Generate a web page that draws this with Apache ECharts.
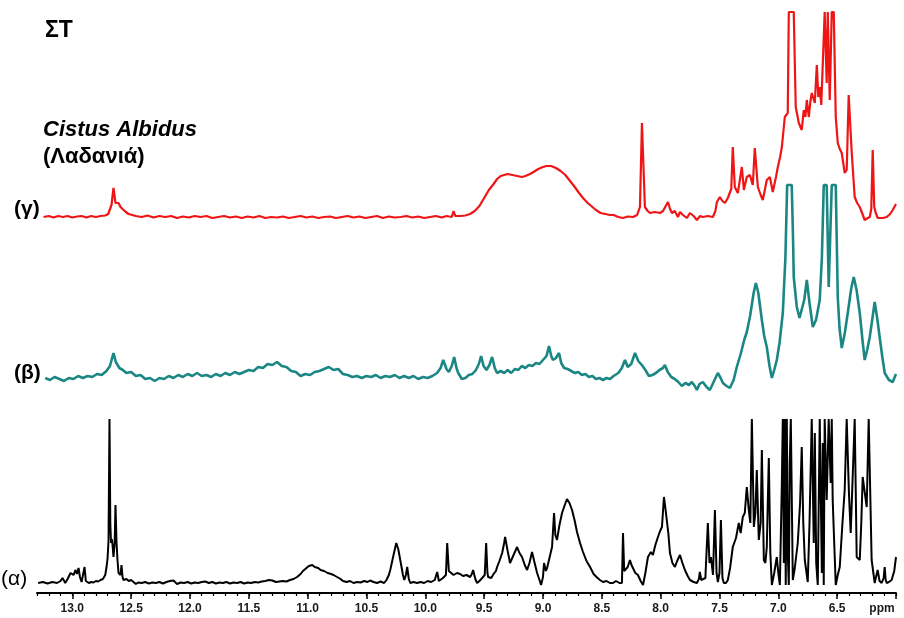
<!DOCTYPE html>
<html><head><meta charset="utf-8">
<script src="https://cdn.jsdelivr.net/npm/echarts@6/dist/echarts.min.js"></script>
<style>html,body{margin:0;padding:0;background:#fff}#c{width:904px;height:618px}</style>
</head><body><div id="c"></div>
<script>
// chemical shift (ppm) / relative intensity (tall tops are clipped in the figure)
const gammaTrace = [[13.244,0],[13.20,1],[13.16,-0.5],[13.12,1],[13.08,0],[13.04,1],[13.00,-0.5],[12.96,0.5],[12.92,1],[12.88,-0.5],[12.84,1],[12.80,0],[12.76,1],[12.72,1.5],[12.695,3],[12.667,12],[12.650,29],[12.633,14],[12.62,12],[12.607,14],[12.59,10],[12.573,8],[12.545,5],[12.522,3],[12.49,2],[12.46,1],[12.41,0],[12.36,1.5],[12.31,-0.5],[12.26,1],[12.21,0],[12.16,1],[12.11,-1],[12.06,0.5],[12.01,-0.5],[11.96,1],[11.91,0],[11.86,1],[11.81,-1],[11.76,0],[11.71,1],[11.66,-0.5],[11.61,0.5],[11.56,-1],[11.51,0.5],[11.46,-0.5],[11.41,1],[11.36,-1],[11.31,0],[11.26,-0.5],[11.21,0.5],[11.16,-1],[11.11,0],[11.06,1],[11.01,-0.5],[10.96,0.5],[10.91,-1],[10.86,0],[10.81,0.5],[10.76,-1],[10.71,0],[10.66,1],[10.61,-0.5],[10.56,0.5],[10.51,-1],[10.46,0],[10.41,1],[10.36,-1],[10.31,0.5],[10.26,-0.5],[10.21,0],[10.16,1],[10.11,-0.5],[10.06,0.5],[10.01,-1],[9.96,0],[9.91,1],[9.86,-0.5],[9.82,1],[9.775,0],[9.76,6],[9.745,1],[9.70,1],[9.66,1.5],[9.62,3],[9.58,6],[9.54,11],[9.50,19],[9.46,27],[9.42,33],[9.39,38],[9.36,41],[9.33,42],[9.30,43],[9.26,42],[9.22,41],[9.18,40],[9.15,41],[9.11,43],[9.08,45],[9.04,48],[9.00,50],[8.97,51],[8.93,51],[8.89,49],[8.85,46],[8.81,42],[8.77,36],[8.73,30],[8.70,25],[8.66,19],[8.62,14],[8.58,10],[8.55,7],[8.51,4],[8.47,3],[8.43,2],[8.40,2],[8.36,0],[8.32,-1],[8.28,0.5],[8.235,0],[8.20,2],[8.176,10],[8.159,94],[8.134,10],[8.11,6],[8.091,4],[8.05,5],[8.006,4],[7.98,6],[7.964,7],[7.938,15],[7.92,8],[7.904,4],[7.88,6],[7.853,0],[7.836,5],[7.81,2],[7.777,-1],[7.751,4],[7.72,1],[7.692,-3],[7.665,1],[7.641,0],[7.60,1],[7.556,0],[7.535,6],[7.522,15],[7.497,20],[7.475,16],[7.454,14],[7.429,19],[7.40,28],[7.387,70],[7.370,30],[7.344,24],[7.310,50],[7.293,27],[7.268,40],[7.242,42],[7.217,32],[7.200,69],[7.174,30],[7.15,22],[7.132,17],[7.11,30],[7.098,37],[7.072,40],[7.047,25],[7.02,40],[7.004,50],[6.985,60],[6.970,70],[6.945,100],[6.920,104],[6.911,205],[6.869,205],[6.852,110],[6.826,94],[6.801,87],[6.784,107],[6.770,100],[6.758,117],[6.741,100],[6.728,115],[6.716,124],[6.690,114],[6.673,152],[6.660,120],[6.648,130],[6.635,112],[6.622,110],[6.606,205],[6.589,134],[6.580,205],[6.563,117],[6.546,205],[6.529,205],[6.512,100],[6.495,74],[6.478,68],[6.461,64],[6.436,44],[6.419,47],[6.402,122],[6.376,64],[6.351,20],[6.33,14],[6.308,10],[6.285,3],[6.266,-3],[6.24,-1],[6.223,0],[6.21,8],[6.198,67],[6.185,10],[6.172,4],[6.155,-1],[6.139,-3],[6.11,-1],[6.079,0],[6.05,3],[6.028,7],[6.0,13]];

const betaTrace = [[13.23,0],[13.19,-2],[13.15,1],[13.11,-1],[13.07,-3],[13.03,0],[12.99,-1],[12.95,2],[12.91,0],[12.87,2],[12.83,1],[12.79,4],[12.75,3],[12.71,7],[12.68,12],[12.65,25],[12.63,16],[12.60,10],[12.57,8],[12.54,5],[12.50,6],[12.46,2],[12.42,3],[12.38,-1],[12.34,0],[12.30,-3],[12.26,0],[12.22,-1],[12.18,2],[12.14,0],[12.10,3],[12.06,1],[12.02,4],[11.98,2],[11.94,5],[11.90,2],[11.86,3],[11.82,1],[11.78,4],[11.74,2],[11.70,5],[11.66,3],[11.62,6],[11.58,4],[11.54,6],[11.50,8],[11.46,7],[11.42,11],[11.38,10],[11.34,14],[11.30,13],[11.26,16],[11.22,12],[11.18,11],[11.14,7],[11.10,6],[11.06,2],[11.02,4],[10.98,3],[10.94,6],[10.90,7],[10.86,9],[10.82,11],[10.78,8],[10.74,9],[10.70,4],[10.66,3],[10.62,1],[10.58,2],[10.54,0],[10.50,2],[10.46,1],[10.42,3],[10.38,0],[10.34,2],[10.30,1],[10.26,3],[10.22,0],[10.18,2],[10.14,0],[10.10,2],[10.06,-1],[10.02,1],[9.98,0],[9.94,2],[9.90,5],[9.87,10],[9.848,18],[9.82,9],[9.80,6],[9.775,12],[9.755,21],[9.735,10],[9.72,5],[9.69,-1],[9.66,0],[9.63,3],[9.60,4],[9.57,8],[9.545,14],[9.526,22],[9.505,12],[9.48,8],[9.455,13],[9.432,21],[9.41,10],[9.39,5],[9.36,7],[9.33,5],[9.30,8],[9.27,5],[9.24,9],[9.21,8],[9.18,12],[9.15,10],[9.12,13],[9.09,12],[9.06,15],[9.03,14],[9.00,18],[8.97,22],[8.949,32],[8.93,22],[8.915,18],[8.89,20],[8.864,25],[8.845,15],[8.82,10],[8.79,9],[8.76,7],[8.73,5],[8.70,6],[8.67,3],[8.64,4],[8.61,1],[8.58,2],[8.55,-1],[8.52,0],[8.49,-2],[8.46,0],[8.43,-1],[8.40,2],[8.36,5],[8.33,10],[8.303,18],[8.28,11],[8.25,14],[8.218,25],[8.19,17],[8.16,13],[8.13,8],[8.10,2],[8.07,3],[8.04,5],[8.01,8],[7.98,10],[7.964,13],[7.94,6],[7.91,1],[7.88,-1],[7.85,-4],[7.82,-8],[7.79,-5],[7.76,-7],[7.735,-4],[7.71,-8],[7.692,-12],[7.67,-6],[7.641,-4],[7.61,-9],[7.582,-12],[7.55,-4],[7.514,5],[7.49,0],[7.471,-5],[7.44,-8],[7.412,-10],[7.38,-2],[7.353,11],[7.32,24],[7.29,38],[7.268,46],[7.24,62],[7.21,85],[7.191,95],[7.17,85],[7.14,58],[7.12,42],[7.098,31],[7.075,12],[7.055,0],[7.035,8],[7.013,18],[6.99,35],[6.962,65],[6.94,120],[6.925,193],[6.886,193],[6.875,140],[6.869,101],[6.843,71],[6.82,60],[6.809,58],[6.78,78],[6.758,98],[6.735,75],[6.707,51],[6.68,58],[6.648,78],[6.63,120],[6.614,193],[6.589,193],[6.572,91],[6.546,193],[6.512,193],[6.495,81],[6.48,50],[6.461,30],[6.435,45],[6.41,65],[6.38,90],[6.359,101],[6.335,88],[6.308,65],[6.285,38],[6.266,18],[6.245,28],[6.223,41],[6.20,60],[6.181,76],[6.16,60],[6.139,41],[6.115,20],[6.096,5],[6.06,-2],[6.028,-4],[6.0,4]];

const alphaTrace = [[13.29,0],[13.25,1],[13.21,-0.5],[13.17,1],[13.13,0],[13.10,2],[13.083,5],[13.06,0],[13.04,4],[13.015,10],[12.99,8],[12.972,13],[12.96,9],[12.947,15],[12.935,6],[12.921,1],[12.905,3],[12.896,16],[12.885,2],[12.86,0],[12.84,1],[12.82,0.5],[12.80,2],[12.78,1.5],[12.76,3],[12.74,4],[12.72,8],[12.709,16],[12.70,25],[12.692,43],[12.684,164],[12.677,60],[12.671,40],[12.664,44],[12.658,38],[12.650,26],[12.640,40],[12.633,78],[12.624,40],[12.616,23],[12.607,10],[12.59,8],[12.582,18],[12.573,6],[12.565,3],[12.54,4],[12.52,2],[12.50,3],[12.48,1],[12.46,-1],[12.44,0.5],[12.41,0],[12.38,1],[12.35,-0.5],[12.32,0.5],[12.29,0],[12.26,1],[12.23,-0.5],[12.20,1],[12.17,2],[12.14,2.5],[12.11,-1],[12.08,0.5],[12.05,0],[12.02,1],[11.99,-0.5],[11.96,0.5],[11.93,0],[11.90,1],[11.87,1.5],[11.84,0],[11.81,1],[11.78,-0.5],[11.75,0.5],[11.72,0],[11.69,1],[11.66,-0.5],[11.63,0.5],[11.60,0],[11.57,1],[11.54,-0.5],[11.51,0.5],[11.48,0],[11.45,1],[11.42,0.5],[11.39,1.5],[11.36,2],[11.33,3],[11.30,2.5],[11.27,1],[11.24,1.5],[11.21,2],[11.18,1.5],[11.15,3],[11.12,4],[11.09,6],[11.06,9],[11.04,12],[11.01,15],[10.99,17],[10.96,18],[10.94,16],[10.91,15],[10.89,13],[10.86,12],[10.83,10],[10.80,9],[10.78,8],[10.75,6],[10.72,4],[10.70,2],[10.67,1],[10.64,2],[10.61,0],[10.58,1],[10.55,0.5],[10.52,2],[10.49,1],[10.47,2.5],[10.44,1],[10.41,0],[10.38,1.5],[10.35,0],[10.33,3],[10.31,8],[10.298,13],[10.27,28],[10.247,40],[10.23,34],[10.213,23],[10.19,8],[10.179,3],[10.165,8],[10.154,16],[10.14,4],[10.128,0],[10.10,1],[10.07,0],[10.04,1],[10.01,0],[9.98,2],[9.95,1],[9.92,3],[9.899,11],[9.885,2],[9.874,0],[9.85,5],[9.825,8],[9.814,40],[9.80,12],[9.789,10],[9.76,8],[9.73,10],[9.704,9],[9.68,7],[9.65,8],[9.619,6],[9.605,9],[9.594,13],[9.575,4],[9.560,0],[9.54,2],[9.517,5],[9.495,8],[9.483,40],[9.472,10],[9.466,6],[9.44,5],[9.42,9],[9.40,12],[9.39,16],[9.37,22],[9.347,30],[9.33,40],[9.322,46],[9.30,32],[9.280,20],[9.25,28],[9.220,36],[9.20,30],[9.178,26],[9.155,18],[9.135,13],[9.115,20],[9.093,31],[9.075,22],[9.050,10],[9.03,3],[9.016,-2],[9.00,6],[8.991,20],[8.975,12],[8.965,15],[8.945,25],[8.923,36],[8.906,70],[8.895,48],[8.881,43],[8.86,58],[8.838,70],[8.815,78],[8.796,84],[8.775,80],[8.753,73],[8.73,62],[8.711,51],[8.685,40],[8.660,31],[8.63,22],[8.600,16],[8.57,9],[8.545,6],[8.516,3],[8.49,1],[8.46,2],[8.431,0],[8.405,0],[8.38,2],[8.35,0],[8.329,0],[8.320,50],[8.31,12],[8.303,10],[8.28,16],[8.261,23],[8.248,18],[8.235,16],[8.215,10],[8.193,8],[8.17,2],[8.150,-2],[8.13,10],[8.108,26],[8.083,31],[8.066,28],[8.045,38],[8.023,46],[8.005,52],[7.989,56],[7.972,86],[7.96,75],[7.947,73],[7.935,50],[7.921,30],[7.90,20],[7.879,16],[7.86,22],[7.836,28],[7.815,20],[7.794,13],[7.77,7],[7.751,3],[7.72,1],[7.692,0],[7.675,4],[7.667,11],[7.655,3],[7.641,1],[7.62,5],[7.599,60],[7.585,20],[7.573,26],[7.555,8],[7.539,73],[7.525,10],[7.514,1],[7.50,10],[7.488,63],[7.475,5],[7.463,0],[7.445,0],[7.429,3],[7.41,15],[7.387,36],[7.36,45],[7.336,60],[7.32,50],[7.302,66],[7.285,70],[7.268,96],[7.251,73],[7.238,60],[7.225,164],[7.208,56],[7.195,70],[7.183,113],[7.166,43],[7.15,60],[7.140,133],[7.123,23],[7.11,20],[7.098,36],[7.081,125],[7.068,30],[7.055,-2],[7.035,10],[7.013,26],[7.00,10],[6.987,-2],[6.970,100],[6.962,164],[6.953,20],[6.945,164],[6.937,-2],[6.928,164],[6.920,30],[6.911,-2],[6.903,120],[6.894,164],[6.877,3],[6.86,15],[6.835,40],[6.815,80],[6.801,136],[6.788,60],[6.775,23],[6.750,1],[6.735,60],[6.716,164],[6.699,40],[6.690,150],[6.678,20],[6.665,-2],[6.648,164],[6.630,10],[6.622,140],[6.614,-2],[6.606,164],[6.589,83],[6.572,164],[6.555,100],[6.546,164],[6.538,83],[6.525,40],[6.512,-2],[6.495,8],[6.478,16],[6.455,60],[6.436,93],[6.419,164],[6.40,90],[6.385,50],[6.37,100],[6.351,164],[6.334,26],[6.308,23],[6.295,60],[6.283,106],[6.265,90],[6.249,76],[6.232,164],[6.207,23],[6.181,0],[6.17,6],[6.156,13],[6.14,2],[6.122,0],[6.105,5],[6.096,16],[6.088,3],[6.079,0],[6.06,1],[6.037,3],[6.015,12],[6.0,26]];

const majorTicks = [6.0,6.5,7.0,7.5,8.0,8.5,9.0,9.5,10.0,10.5,11.0,11.5,12.0,12.5,13.0];
const traceLabels = ['(α)','(β)','(γ)'];
const titleText = 'ΣT';
const sampleName = 'Cistus Albidus';
const sampleLocal = '(Λαδανιά)';

// vertical stacking of the three spectra (layout only)
const OFF = {alpha: 10, beta: 215, gamma: 376};
const shift = (arr, o) => arr.map(p => [p[0], p[1] + o]);

const chart = echarts.init(document.getElementById('c'), null, {renderer: 'canvas'});
const FONT = 'Liberation Sans, Arial, sans-serif';
chart.setOption({
  animation: false,
  backgroundColor: '#fff',
  grid: {left: 37, right: 8, top: 12, bottom: 25, containLabel: false},
  xAxis: [{
    type: 'value', inverse: true, min: 6.0, max: 13.3, interval: 0.5, position: 'bottom',
    axisLine: {show: true, onZero: false, lineStyle: {color: '#000', width: 2}},
    axisTick: {show: true, inside: false, length: 6, customValues: majorTicks, lineStyle: {color: '#000', width: 1.5}},
    splitLine: {show: false},
    axisLabel: {
      customValues: majorTicks, margin: 10, color: '#1a1a1a', fontSize: 12, fontWeight: 'bold', fontFamily: FONT,
      formatter: v => Math.abs(v - 6) < 1e-6 ? '{p|ppm}' : v.toFixed(1),
      rich: {p: {padding: [0, 28, 0, 0], fontSize: 12, fontWeight: 'bold', color: '#1a1a1a', fontFamily: FONT}}
    }
  }, {
    type: 'value', inverse: true, min: 6.0, max: 13.3, interval: 0.1, position: 'bottom',
    axisLine: {show: false, onZero: false},
    axisTick: {show: true, inside: false, length: 3, lineStyle: {color: '#000', width: 1.2}},
    axisLabel: {show: false}, splitLine: {show: false}
  }],
  yAxis: {type: 'value', min: 0, max: 581, show: false, splitLine: {show: false}},
  series: [
    {type: 'line', name: traceLabels[0], data: shift(alphaTrace, OFF.alpha), showSymbol: false, lineStyle: {color: '#000', width: 2}, z: 3},
    {type: 'line', name: traceLabels[1], data: shift(betaTrace, OFF.beta), showSymbol: false, lineStyle: {color: '#1b8784', width: 2.6}, z: 2},
    {type: 'line', name: traceLabels[2], data: shift(gammaTrace, OFF.gamma), showSymbol: false, lineStyle: {color: '#f01515', width: 2.2}, z: 1}
  ],
  graphic: [
    {type: 'text', x: 45, y: 31, style: {text: titleText, font: 'bold 23px ' + FONT, fill: '#000', textVerticalAlign: 'middle'}},
    {type: 'text', x: 43, y: 130, style: {text: sampleName, font: 'italic bold 22px ' + FONT, fill: '#000', textVerticalAlign: 'middle'}},
    {type: 'text', x: 43, y: 157, style: {text: sampleLocal, font: 'bold 22px ' + FONT, fill: '#000', textVerticalAlign: 'middle'}},
    {type: 'text', x: 14, y: 209, style: {text: traceLabels[2], font: 'bold 21px ' + FONT, fill: '#000', textVerticalAlign: 'middle'}},
    {type: 'text', x: 14, y: 373, style: {text: traceLabels[1], font: 'bold 21px ' + FONT, fill: '#000', textVerticalAlign: 'middle'}},
    {type: 'text', x: 1, y: 579, style: {text: traceLabels[0], font: '21px ' + FONT, fill: '#000', textVerticalAlign: 'middle'}}
  ]
});
</script>
</body></html>
